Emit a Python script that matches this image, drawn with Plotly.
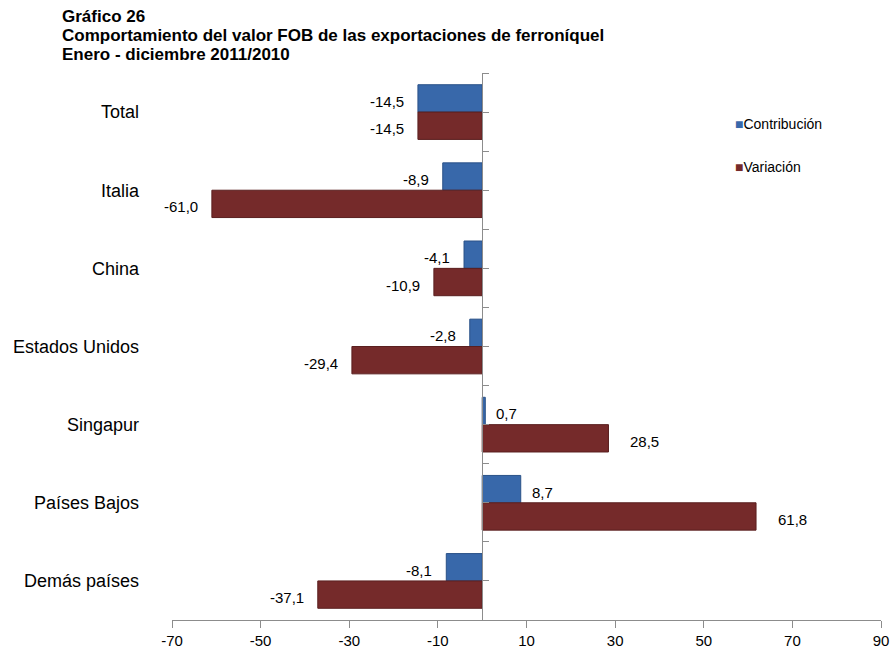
import plotly.graph_objects as go
import numpy as np

categories = ["Total", "Italia", "China", "Estados Unidos", "Singapur", "Países Bajos", "Demás países"]
contribucion = [-14.5, -8.9, -4.1, -2.8, 0.7, 8.7, -8.1]
variacion = [-14.5, -61.0, -10.9, -29.4, 28.5, 61.8, -37.1]
x_ticks = [-70, -50, -30, -10, 10, 30, 50, 70, 90]
series_names = ["Contribución", "Variación"]

title_lines = ["Gráfico 26",
               "Comportamiento del valor FOB de las exportaciones de ferroníquel",
               "Enero - diciembre 2011/2010"]

FONT = "Liberation Sans, Arial, sans-serif"
BLUE = "#3868aa"
RED = "#752a2a"
AXIS = "#8c8c8c"

W, H = 895, 654
L, R, T, B = 172, 14, 73, 34
PW, PH = W - L - R, H - T - B
BAR_W = 0.35


def px_x(x):
    return (x - L) / PW


def px_y(y):
    return (H - B - y) / PH


pos = list(range(len(categories)))

fig = go.Figure()
fig.add_trace(go.Bar(
    y=pos, x=contribucion, orientation="h", name=series_names[0],
    width=BAR_W, offset=-BAR_W, yaxis="y",
    marker=dict(color=BLUE, line=dict(color="#2a5187", width=1)),
))
fig.add_trace(go.Bar(
    y=pos, x=variacion, orientation="h", name=series_names[1],
    width=BAR_W, offset=0, yaxis="y2",
    marker=dict(color=RED, line=dict(color="#5a1f1f", width=1)),
))

half = BAR_W / 2
annotations = []
for i, v in enumerate(contribucion):
    annotations.append(dict(
        x=v, y=i - half, xref="x", yref="y", text=f"{v:.1f}".replace(".", ","),
        showarrow=False, xanchor="left" if v >= 0 else "right",
        xshift=9 if v >= 0 else -12, yshift=-3,
        font=dict(family=FONT, size=15, color="#000000"),
    ))
for i, v in enumerate(variacion):
    annotations.append(dict(
        x=v, y=i + half, xref="x", yref="y", text=f"{v:.1f}".replace(".", ","),
        showarrow=False, xanchor="left" if v >= 0 else "right",
        xshift=20 if v >= 0 else -12, yshift=-3,
        font=dict(family=FONT, size=15, color="#000000"),
    ))

title_y = [16, 35, 54]
for k, line in enumerate(title_lines):
    annotations.append(dict(
        x=px_x(60), y=px_y(title_y[k]), xref="paper", yref="paper",
        text=f"<b>{line}</b>", showarrow=False, xanchor="left", yanchor="middle",
        font=dict(family=FONT, size=17, color="#000000"),
    ))

legend_y = [124, 167]
for k, (name, col) in enumerate(zip(series_names, [BLUE, RED])):
    annotations.append(dict(
        x=px_x(733), y=px_y(legend_y[k]), xref="paper", yref="paper",
        text=f"<span style='color:{col}'>■</span>{name}", showarrow=False,
        xanchor="left", yanchor="middle",
        font=dict(family=FONT, size=14, color="#000000"),
    ))

fig.update_layout(
    width=W, height=H,
    margin=dict(l=L, r=R, t=T, b=B, autoexpand=False),
    paper_bgcolor="white", plot_bgcolor="white",
    barmode="overlay",
    showlegend=False,
    xaxis=dict(range=[-70, 90], tickvals=x_ticks, ticktext=[str(t) for t in x_ticks],
               showgrid=False, zeroline=False, showline=True, linecolor=AXIS, linewidth=1,
               ticks="outside", ticklen=7, tickcolor=AXIS,
               tickfont=dict(family=FONT, size=15, color="#000000")),
    yaxis=dict(range=[6.5, -0.5], tickvals=pos, ticktext=categories,
               showgrid=False, zeroline=False, showline=False, ticks="",
               ticklabelstandoff=32,
               tickfont=dict(family=FONT, size=18, color="#000000")),
    yaxis2=dict(overlaying="y", matches="y", anchor="free", position=70 / 160,
                side="right", showline=True, linecolor=AXIS, linewidth=1,
                ticks="outside", ticklen=6, tickcolor=AXIS,
                tickvals=list(np.arange(-0.5, 6.51, 0.5)), showticklabels=False,
                showgrid=False, zeroline=False),
    annotations=annotations,
    font=dict(family=FONT),
)

fig.write_html("out.html",
               config={"displayModeBar": False},
               post_script="document.body.style.margin='0';document.body.style.overflow='hidden';")
